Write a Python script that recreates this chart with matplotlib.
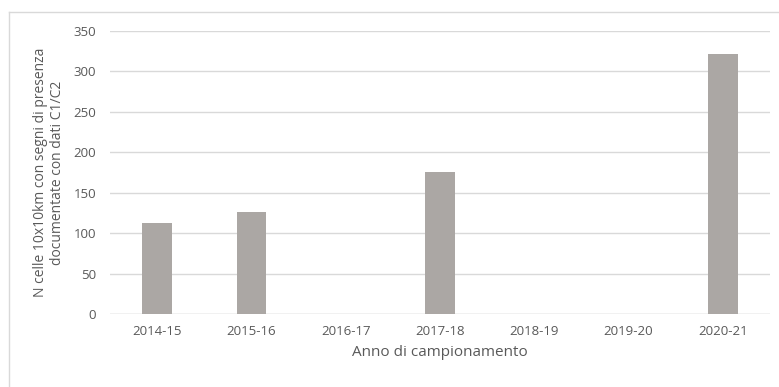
import matplotlib.pyplot as plt
from matplotlib.lines import Line2D

# Cells with documented presence per sampling season
anni = ["2014-15", "2015-16", "2016-17", "2017-18", "2018-19", "2019-20", "2020-21"]
celle = [112, 126, 0, 175, 0, 0, 321]
y_ticks = [0, 50, 100, 150, 200, 250, 300, 350]

plt.rcParams['font.family'] = ['Open Sans', 'DejaVu Sans']
testo = '#595959'

fig = plt.figure(figsize=(7.79, 3.87), dpi=100)
ax = fig.add_axes([0.141, 0.1886, 0.8475, 0.7314])

x = range(len(anni))
ax.bar(x, celle, width=0.31, color='#aba7a4', zorder=2)

ax.set_xlim(-0.5, len(anni) - 0.5)
ax.set_ylim(0, 350)
ax.set_yticks(y_ticks)
ax.set_xticks(list(x))
ax.set_xticklabels(anni)
ax.grid(axis='y', color='#d9d9d9', linewidth=1, zorder=0)
for s in ax.spines.values():
    s.set_visible(False)
ax.axhline(0, color='#d9d9d9', linewidth=1, zorder=1)
ax.tick_params(length=0, colors=testo, labelsize=9.5)
ax.tick_params(axis='y', pad=10)
ax.tick_params(axis='x', pad=8)

ax.set_xlabel("Anno di campionamento", color=testo, fontsize=11, labelpad=5)
ax.set_ylabel("N celle 10x10km con segni di presenza\ndocumentate con dati C1/C2",
              color=testo, fontsize=10, labelpad=6, linespacing=1.15)

# chart frame (only top and left edges fall inside the image)
fig.add_artist(Line2D([9 / 779, 1], [1 - 12 / 387] * 2, transform=fig.transFigure,
                      color='#d9d9d9', linewidth=1))
fig.add_artist(Line2D([9 / 779] * 2, [0, 1 - 12 / 387], transform=fig.transFigure,
                      color='#d9d9d9', linewidth=1))

fig.savefig("out.png", dpi=100)
